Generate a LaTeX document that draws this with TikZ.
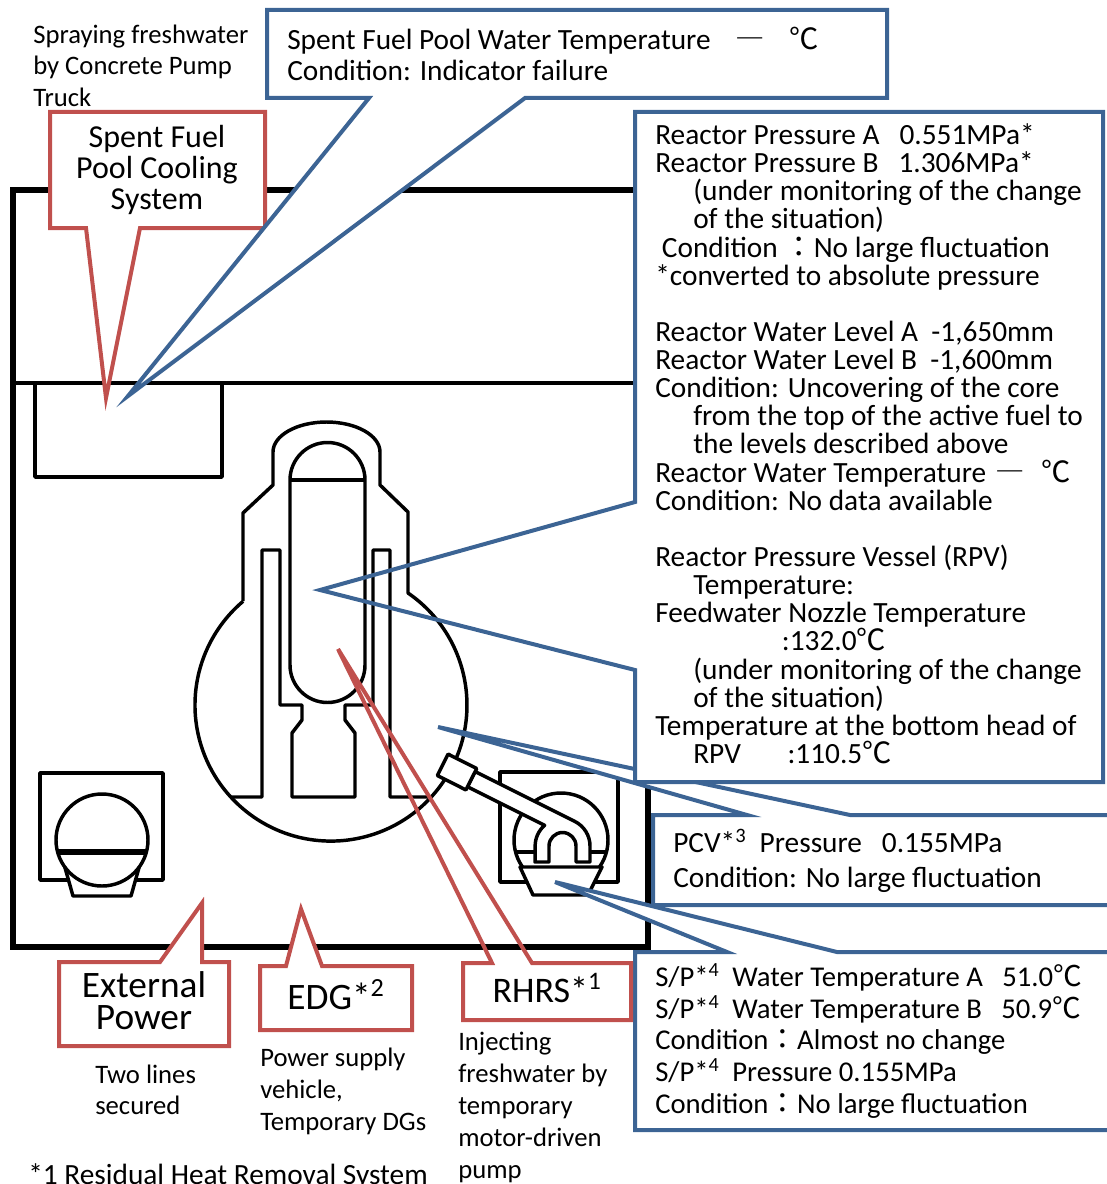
\documentclass[tikz,border=0pt]{standalone}
\usepackage{fontspec}
\setmainfont{Carlito}
\newfontfamily\cjk{Noto Sans CJK JP}
\usepackage{xcolor}
\usepackage{tikz}
\usetikzlibrary{calc}

\definecolor{calloutblue}{RGB}{60,100,148}
\definecolor{calloutred}{RGB}{192,80,77}

\newcommand{\degc}{{\cjk ℃}}
\newcommand{\dashbar}{{\cjk ―}}
\newcommand{\fwcolon}{{\cjk ：}}
\newcommand{\ind}{\hspace*{28.5pt}}
% text blocks whose baseline is the first line
\newcommand{\leftlines}[1]{\vtop{\lineskiplimit=-\maxdimen\def\\{\cr}\halign{##\hfil\cr#1\crcr}}}
\newcommand{\centerlines}[1]{\vtop{\lineskiplimit=-\maxdimen\def\\{\cr}\halign{\hfil##\hfil\cr#1\crcr}}}

\tikzset{
  wall/.style={draw=black, line width=3.8pt},
  part/.style={draw=black, line width=2.6pt, line join=round},
  bluecall/.style={draw=calloutblue, line width=3pt, fill=white},
  redcall/.style={draw=calloutred, line width=3pt, fill=white},
  redline/.style={draw=calloutred, line width=3pt},
  boxtext/.style={anchor=base west, inner sep=0pt},
  labeltext/.style={anchor=base, inner sep=0pt}
}

\begin{document}
\begin{tikzpicture}[x=0.75pt, y=-0.75pt]

\useasboundingbox (0,0) rectangle (1106,1184);

% building
\draw[wall] (13,190) rectangle (648,947);
\draw[part] (13,383) -- (635,383);
\draw[part] (35,383) -- (35,477) -- (222,477) -- (222,383);

% containment vessel
\draw[part] (243,601) -- (243,513) -- (273,485) -- (273,452)
  arc[start angle=180, end angle=360, x radius=53.5, y radius=30]
  -- (380,485) -- (408,512) -- (408,593)
  arc[start angle=-55.5, end angle=229.7, radius=136];

% reactor pressure vessel
\draw[part] (290,480) -- (290,665) arc[start angle=180, end angle=0, radius=37.5]
  -- (365,480) arc[start angle=0, end angle=-180, radius=37.5] -- cycle;
\draw[part] (290,480) -- (365,480);

% pedestal
\draw[part] (230,797) -- (262,797) -- (262,550) -- (280,550) -- (280,705) -- (302,705)
  -- (302,720) -- (292,733) -- (292,797) -- (355,797) -- (355,733) -- (345,720)
  -- (345,705) -- (373,705) -- (373,550) -- (390,550) -- (390,797) -- (431,797);

% left pump
\draw[part] (40,773) rectangle (163,880);
\draw[part, fill=white] (64.8,867) -- (73,896) -- (131,896) -- (139.2,867);
\draw[part] (102,840) circle[radius=46];
\draw[black, line width=4pt] (57.6,852) -- (146.4,852);

% suppression pool
\draw[part] (500,772) rectangle (618,882);
\draw[part] (561,840) circle[radius=47];
\draw[part] (515.6,852) -- (535,852);
\draw[part] (590,852) -- (606.4,852);
\draw[part, fill=white] (520,867) -- (533,895) -- (588,895) -- (602,867) -- cycle;
\draw[part, fill=white] (467.5,786.8) -- (544.6,825.3)
  arc[start angle=229, end angle=180, radius=27.5] -- (535,862) -- (549,862) -- (549,846)
  arc[start angle=180, end angle=360, radius=13.5] -- (576,862) -- (590,862) -- (590,846)
  arc[start angle=0, end angle=-63.4, radius=27.5] -- (475.1,771.6) -- cycle;
\draw[part, fill=white] (465.9,789.9) -- (476.7,768.5) -- (448.1,754.1) -- (437.3,775.5) -- cycle;

% callouts
\draw[redcall] (50,112) -- (265,112) -- (265,228) -- (140,228) -- (106,398) -- (86,228) -- (50,228) -- cycle;
\draw[bluecall] (267,10) -- (887,10) -- (887,98) -- (525,98) -- (128,396) -- (369,98) -- (267,98) -- cycle;

\draw[bluecall] (653,815) -- (747,815) -- (438,727) -- (850,815) -- (1115,815) -- (1115,905) -- (653,905) -- cycle;
\draw[bluecall] (635,952) -- (727,952) -- (555,882) -- (837,952) -- (1115,952) -- (1115,1130) -- (635,1130) -- cycle;
\fill[white] (635,112) rectangle (1103,782);
\draw[bluecall, fill=none] (635,112) -- (1103,112) -- (1103,782) -- (635,782) -- (635,670) -- (320,590) -- (635,502) -- cycle;

\draw[redcall] (59,962) -- (160,962) -- (202,903) -- (202,962) -- (229,962) -- (229,1046) -- (59,1046) -- cycle;
\draw[redcall] (260,966) -- (286,966) -- (301,909) -- (322,966) -- (412,966) -- (412,1030) -- (260,1030) -- cycle;
\draw[redline] (463,963) -- (492,963) -- (338,649) -- (532,963) -- (631,963) -- (631,1020) -- (463,1020) -- cycle;

% texts
\node[boxtext, font=\fontsize{20}{23.6}\selectfont] (spray) at (33,43.5)
  {\leftlines{Spraying freshwater\\by Concrete Pump\\Truck}};
\node[labeltext, font=\fontsize{24}{23.3}\selectfont] (sfpcool) at (157,147.5)
  {\centerlines{Spent Fuel\\Pool Cooling\\System}};
\node[boxtext, font=\fontsize{22}{23.3}\selectfont] (sfptemp) at (287,49.5)
  {\leftlines{Spent Fuel Pool Water Temperature\hspace{0.85em}\dashbar\hspace{0.85em}\degc\\
   Condition: Indicator failure}};

\node[boxtext, font=\fontsize{22}{21.1}\selectfont] (rpvtext) at (655,144.5)
  {\leftlines{Reactor Pressure A\ \ \ 0.551MPa*\\
   Reactor Pressure B\ \ \ 1.306MPa*\\
   \ind(under monitoring of the change\\
   \ind of the situation)\\
   \ Condition \fwcolon No large fluctuation\\
   *converted to absolute pressure\\
   \\
   Reactor Water Level A\ \ -1,650mm\\
   Reactor Water Level B\ \ -1,600mm\\
   Condition: Uncovering of the core\\
   \ind from the top of the active fuel to\\
   \ind the levels described above\\
   Reactor Water Temperature\hspace{0.3em}\dashbar\hspace{0.6em}\degc\\
   Condition: No data available\\
   \\
   Reactor Pressure Vessel (RPV)\\
   \ind Temperature:\\
   Feedwater Nozzle Temperature\\
   \hspace*{95pt}:132.0\degc\\
   \ind(under monitoring of the change\\
   \ind of the situation)\\
   Temperature at the bottom head of\\
   \ind RPV\hspace*{35pt}:110.5\degc}};

\node[boxtext, font=\fontsize{22}{26.25}\selectfont] (pcvtext) at (673,852.5)
  {\leftlines{PCV*\textsuperscript{3}\ \ Pressure\ \ \ 0.155MPa\\Condition: No large fluctuation}};
\node[boxtext, font=\fontsize{21.5}{23.8}\selectfont] (sptext) at (655,986.5)
  {\leftlines{S/P*\textsuperscript{4}\ \ Water Temperature A\ \ \ 51.0\degc\\
   S/P*\textsuperscript{4}\ \ Water Temperature B\ \ \ 50.9\degc\\
   Condition\fwcolon Almost no change\\
   S/P*\textsuperscript{4}\ \ Pressure 0.155MPa\\
   Condition\fwcolon No large fluctuation}};

\node[labeltext, font=\fontsize{28}{24}\selectfont] (extpower) at (144,997) {\centerlines{External\\Power}};
\node[labeltext, font=\fontsize{28}{24}\selectfont] (edg) at (336,1009) {EDG*\textsuperscript{2}};
\node[labeltext, font=\fontsize{27}{24}\selectfont] (rhrs) at (547,1002) {RHRS*\textsuperscript{1}};

\node[boxtext, font=\fontsize{20}{23.3}\selectfont] (twolines) at (95,1083.5) {\leftlines{Two lines\\secured}};
\node[boxtext, font=\fontsize{20}{24}\selectfont] (psv) at (260,1066.5)
  {\leftlines{Power supply\\vehicle,\\Temporary DGs}};
\node[boxtext, font=\fontsize{20}{24}\selectfont] (inject) at (458,1050.5)
  {\leftlines{Injecting\\freshwater by\\temporary\\motor-driven\\pump}};
\node[boxtext, font=\fontsize{22}{23.3}\selectfont] (note) at (28,1184.5) {*1 Residual Heat Removal System};

\end{tikzpicture}
\end{document}
